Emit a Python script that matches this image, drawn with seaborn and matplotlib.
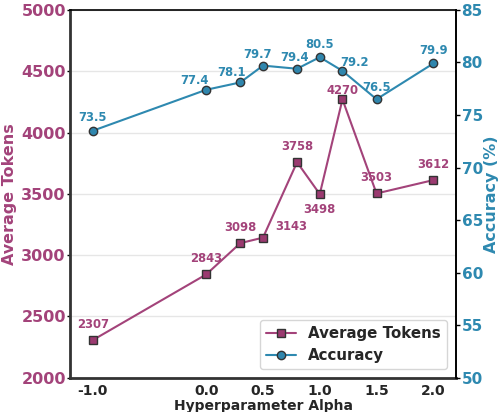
import matplotlib
matplotlib.use("Agg")
import matplotlib.pyplot as plt
import seaborn as sns
import pandas as pd

# Sweep over the hyperparameter alpha
alpha = [-1.0, 0.0, 0.3, 0.5, 0.8, 1.0, 1.2, 1.5, 2.0]
avg_tokens = [2307, 2843, 3098, 3143, 3758, 3498, 4270, 3503, 3612]
accuracy = [73.5, 77.4, 78.1, 79.7, 79.4, 80.5, 79.2, 76.5, 79.9]
x_ticks = [-1.0, 0.0, 0.5, 1.0, 1.5, 2.0]

TOK_COLOR = "#a3437a"
ACC_COLOR = "#2e89b0"

sns.set_style("white")
plt.rcParams["font.family"] = ["DejaVu Sans"]

df = pd.DataFrame({"alpha": alpha, "tokens": avg_tokens, "acc": accuracy})

fig, ax = plt.subplots(figsize=(5.0, 4.12), dpi=100)
fig.subplots_adjust(left=0.14, right=0.912, top=0.976, bottom=0.083)
ax2 = ax.twinx()

sns.lineplot(data=df, x="alpha", y="tokens", ax=ax, color=TOK_COLOR, lw=1.5,
             marker="s", markersize=6, markerfacecolor="#9b3a70",
             markeredgecolor="#333333", markeredgewidth=1.0, label="Average Tokens",
             legend=False)
sns.lineplot(data=df, x="alpha", y="acc", ax=ax2, color=ACC_COLOR, lw=1.5,
             marker="o", markersize=6, markerfacecolor="#2f86ad",
             markeredgecolor="#333333", markeredgewidth=1.0, label="Accuracy",
             legend=False)

ax.set_xlim(-1.2, 2.2)
ax.set_ylim(2000, 5000)
ax2.set_ylim(50, 85)
ax.set_xticks(x_ticks)
ax.set_xticklabels([f"{t:.1f}" for t in x_ticks], fontsize=10, fontweight="bold")
ax.set_yticks(range(2000, 5001, 500))
ax.set_yticklabels([str(v) for v in range(2000, 5001, 500)], fontsize=11.5,
                   fontweight="bold", color=TOK_COLOR)
ax2.set_yticks(range(50, 86, 5))
ax2.set_yticklabels([str(v) for v in range(50, 86, 5)], fontsize=11,
                    fontweight="bold", color=ACC_COLOR)

ax.set_xlabel("Hyperparameter Alpha", fontsize=10, fontweight="bold", labelpad=1)
ax.set_ylabel("Average Tokens", fontsize=11.5, fontweight="bold", color=TOK_COLOR, labelpad=3)
ax2.set_ylabel("Accuracy (%)", fontsize=11.5, fontweight="bold", color=ACC_COLOR, labelpad=1)

ax.yaxis.grid(True, color="#e6e6e6", lw=1.0)
ax.set_axisbelow(True)
ax.tick_params(axis="y", length=2, width=1, pad=1, color="black")
ax.tick_params(axis="x", length=2.5, width=1, pad=2, color="black")
ax2.tick_params(axis="y", length=3, width=1, pad=1, color="black")

for s in ["left", "bottom"]:
    ax.spines[s].set_color("#333333")
    ax.spines[s].set_linewidth(2.0)
for s in ["top", "right"]:
    ax.spines[s].set_color("black")
    ax.spines[s].set_linewidth(1.2)
ax2.spines["right"].set_color("black")
ax2.spines["right"].set_linewidth(1.2)
ax2.spines["top"].set_visible(False)
ax2.spines["left"].set_visible(False)
ax2.spines["bottom"].set_visible(False)

PX = 0.72  # points per pixel at 100 dpi

# Value labels (offsets in pixels: right, up)
tok_offsets = {3143: (28, 11), 3498: (0, -15), 4270: (0, 9)}
for x, y in zip(alpha, avg_tokens):
    dx, dy = tok_offsets.get(y, (0, 16))
    ax.annotate(f"{y}", (x, y), xytext=(dx * PX, dy * PX), textcoords="offset points",
                ha="center", va="center", fontsize=8.4,
                fontweight="bold", color=TOK_COLOR)
acc_offsets = {77.4: (-12, 9), 78.1: (-9, 10), 79.7: (-5, 11), 79.4: (-3, 11),
               79.2: (12, 8), 76.5: (0, 12)}
for x, y in zip(alpha, accuracy):
    dx, dy = acc_offsets.get(y, (0, 13))
    ax2.annotate(f"{y:.1f}", (x, y), xytext=(dx * PX, dy * PX), textcoords="offset points",
                 ha="center", va="center", fontsize=8.4, fontweight="bold",
                 color=ACC_COLOR)

h1, l1 = ax.get_legend_handles_labels()
h2, l2 = ax2.get_legend_handles_labels()
leg = ax2.legend(h1 + h2, l1 + l2, loc="lower right",
                 prop={"weight": "bold", "size": 10.8}, frameon=True,
                 borderpad=0.4, handlelength=2.0, labelspacing=0.45,
                 borderaxespad=0.6)
leg.get_frame().set_edgecolor("#cccccc")

fig.savefig("out.png", dpi=100)
